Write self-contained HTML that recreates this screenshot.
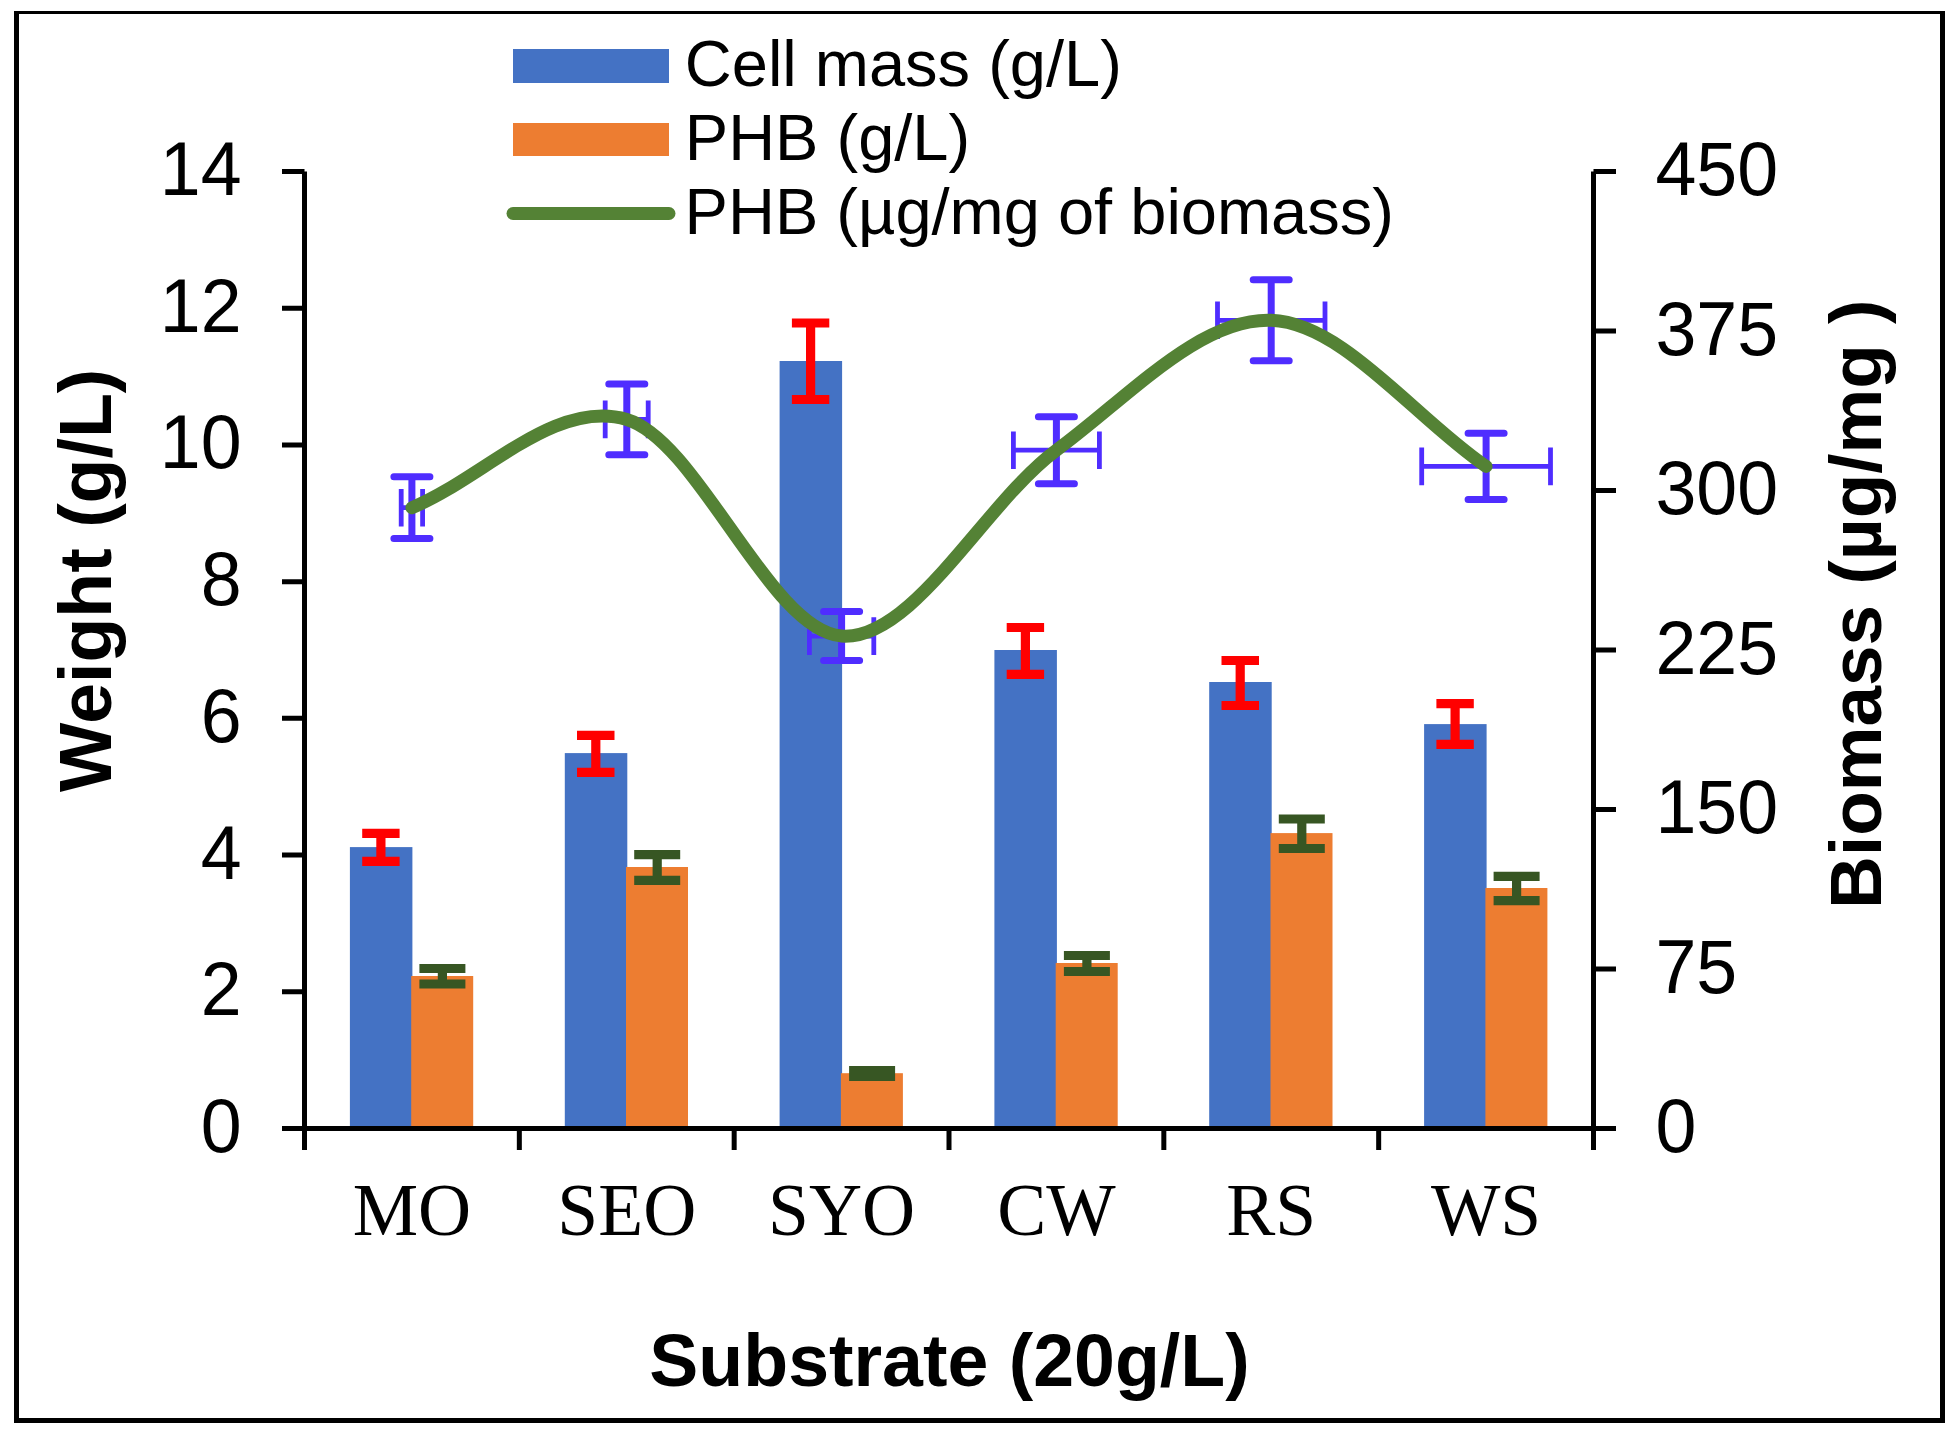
<!DOCTYPE html>
<html lang="en"><head><meta charset="utf-8"><title>Substrate chart</title>
<style>html,body{margin:0;padding:0;background:#fff;}body{width:1956px;height:1432px;overflow:hidden;}svg{display:block;}.s{font-family:"Liberation Sans",Arial,sans-serif;}.b{font-family:"Liberation Sans",Arial,sans-serif;font-weight:bold;}.t{font-family:"Liberation Serif","Times New Roman",serif;}</style></head><body>
<svg width="1956" height="1432" viewBox="0 0 1956 1432">
<rect x="0" y="0" width="1956" height="1432" fill="#fff"/>
<path d="M14 11H1945V1423H14ZM19 14V1418H1940V14Z" fill="#000" fill-rule="evenodd"/>
<rect x="349.9" y="847.1" width="62.5" height="281.4" fill="#4472C4"/>
<rect x="564.8" y="753.1" width="62.5" height="375.4" fill="#4472C4"/>
<rect x="779.6" y="361.0" width="62.5" height="767.5" fill="#4472C4"/>
<rect x="994.4" y="650.0" width="62.5" height="478.5" fill="#4472C4"/>
<rect x="1209.2" y="682.0" width="62.5" height="446.5" fill="#4472C4"/>
<rect x="1424.1" y="724.1" width="62.5" height="404.4" fill="#4472C4"/>
<rect x="411.2" y="976.0" width="62" height="152.5" fill="#ED7D31"/>
<rect x="626.0" y="867.0" width="62" height="261.5" fill="#ED7D31"/>
<rect x="840.9" y="1073.2" width="62" height="55.3" fill="#ED7D31"/>
<rect x="1055.7" y="963.0" width="62" height="165.5" fill="#ED7D31"/>
<rect x="1270.5" y="833.1" width="62" height="295.4" fill="#ED7D31"/>
<rect x="1485.4" y="888.0" width="62" height="240.5" fill="#ED7D31"/>
<path d="M362.2 833.4H399.6M362.2 861.4H399.6M380.9 833.4V861.4" stroke="#FF0000" stroke-width="9.2" fill="none"/>
<path d="M577.0 735.4H614.5M577.0 772.4H614.5M595.8 735.4V772.4" stroke="#FF0000" stroke-width="9.2" fill="none"/>
<path d="M791.9 323.0H829.3M791.9 399.5H829.3M810.6 323.0V399.5" stroke="#FF0000" stroke-width="9.2" fill="none"/>
<path d="M1006.7 627.5H1044.1M1006.7 674.4H1044.1M1025.4 627.5V674.4" stroke="#FF0000" stroke-width="9.2" fill="none"/>
<path d="M1221.5 660.5H1259.0M1221.5 705.5H1259.0M1240.2 660.5V705.5" stroke="#FF0000" stroke-width="9.2" fill="none"/>
<path d="M1436.4 703.6H1473.8M1436.4 744.4H1473.8M1455.1 703.6V744.4" stroke="#FF0000" stroke-width="9.2" fill="none"/>
<path d="M419.4 968.5H465.4M419.4 984.0H465.4M442.4 968.5V984.0" stroke="#375623" stroke-width="9.2" fill="none"/>
<path d="M634.2 854.7H680.2M634.2 880.4H680.2M657.2 854.7V880.4" stroke="#375623" stroke-width="9.2" fill="none"/>
<path d="M849.1 1070.5H895.1M849.1 1076.5H895.1M872.1 1070.5V1076.5" stroke="#375623" stroke-width="9.2" fill="none"/>
<path d="M1063.9 955.5H1109.9M1063.9 971.5H1109.9M1086.9 955.5V971.5" stroke="#375623" stroke-width="9.2" fill="none"/>
<path d="M1278.8 819.0H1324.8M1278.8 848.5H1324.8M1301.8 819.0V848.5" stroke="#375623" stroke-width="9.2" fill="none"/>
<path d="M1493.6 876.4H1539.6M1493.6 900.6H1539.6M1516.6 876.4V900.6" stroke="#375623" stroke-width="9.2" fill="none"/>
<path d="M401.2 507.7H422.6M401.2 488.9V526.5M422.6 488.9V526.5" stroke="#4F2DFF" stroke-width="4.8" fill="none"/>
<path d="M411.9 476.8V538.6M393.9 476.8H429.9M393.9 538.6H429.9" stroke="#4F2DFF" stroke-width="7" stroke-linecap="round" fill="none"/>
<path d="M605.2 419.4H648.2M605.2 400.6V438.2M648.2 400.6V438.2" stroke="#4F2DFF" stroke-width="4.8" fill="none"/>
<path d="M626.8 384.1V454.7M608.8 384.1H644.8M608.8 454.7H644.8" stroke="#4F2DFF" stroke-width="7" stroke-linecap="round" fill="none"/>
<path d="M809.4 636.1H873.8M809.4 617.3V654.9M873.8 617.3V654.9" stroke="#4F2DFF" stroke-width="4.8" fill="none"/>
<path d="M841.6 611.6V660.6M823.6 611.6H859.6M823.6 660.6H859.6" stroke="#4F2DFF" stroke-width="7" stroke-linecap="round" fill="none"/>
<path d="M1013.4 450.2H1099.4M1013.4 431.4V469.0M1099.4 431.4V469.0" stroke="#4F2DFF" stroke-width="4.8" fill="none"/>
<path d="M1056.4 416.7V483.7M1038.4 416.7H1074.4M1038.4 483.7H1074.4" stroke="#4F2DFF" stroke-width="7" stroke-linecap="round" fill="none"/>
<path d="M1217.5 320.3H1325.0M1217.5 301.5V339.1M1325.0 301.5V339.1" stroke="#4F2DFF" stroke-width="4.8" fill="none"/>
<path d="M1271.2 279.8V360.8M1253.2 279.8H1289.2M1253.2 360.8H1289.2" stroke="#4F2DFF" stroke-width="7" stroke-linecap="round" fill="none"/>
<path d="M1421.7 466.4H1550.5M1421.7 447.6V485.2M1550.5 447.6V485.2" stroke="#4F2DFF" stroke-width="4.8" fill="none"/>
<path d="M1486.1 433.3V499.5M1468.1 433.3H1504.1M1468.1 499.5H1504.1" stroke="#4F2DFF" stroke-width="7" stroke-linecap="round" fill="none"/>
<path d="M411.9 507.7C483.5 478.3 555.1 398.0 626.8 419.4C698.4 440.8 770.0 631.0 841.6 636.1C913.2 641.2 984.8 502.8 1056.4 450.2C1128.0 397.6 1199.6 317.6 1271.2 320.3C1342.9 323.0 1414.5 417.7 1486.1 466.4" stroke="#548235" stroke-width="13" stroke-linecap="round" stroke-linejoin="round" fill="none"/>
<g stroke="#000" stroke-width="5" fill="none">
<path d="M304.5 171.5V1150M1593.5 171.5V1150M282 1128.5H1616"/>
<path d="M282 171.50H304.5M282 308.21H304.5M282 444.93H304.5M282 581.64H304.5M282 718.36H304.5M282 855.07H304.5M282 991.79H304.5M1593.5 171.50H1616M1593.5 331.00H1616M1593.5 490.50H1616M1593.5 650.00H1616M1593.5 809.50H1616M1593.5 969.00H1616M519.33 1128.5V1150M734.17 1128.5V1150M949.00 1128.5V1150M1163.83 1128.5V1150M1378.67 1128.5V1150"/>
</g>
<g class="s" font-size="73.5" fill="#000" text-anchor="end">
<text transform="translate(241.6 1152.0) scale(1 1.040)">0</text>
<text transform="translate(241.6 1015.3) scale(1 1.040)">2</text>
<text transform="translate(241.6 878.6) scale(1 1.040)">4</text>
<text transform="translate(241.6 741.9) scale(1 1.040)">6</text>
<text transform="translate(241.6 605.1) scale(1 1.040)">8</text>
<text transform="translate(241.6 468.4) scale(1 1.040)">10</text>
<text transform="translate(241.6 331.7) scale(1 1.040)">12</text>
<text transform="translate(241.6 195.0) scale(1 1.040)">14</text>
<text transform="translate(1655.5 1152.0) scale(1 1.040)" text-anchor="start">0</text>
<text transform="translate(1655.5 992.5) scale(1 1.040)" text-anchor="start">75</text>
<text transform="translate(1655.5 833.0) scale(1 1.040)" text-anchor="start">150</text>
<text transform="translate(1655.5 673.5) scale(1 1.040)" text-anchor="start">225</text>
<text transform="translate(1655.5 514.0) scale(1 1.040)" text-anchor="start">300</text>
<text transform="translate(1655.5 354.5) scale(1 1.040)" text-anchor="start">375</text>
<text transform="translate(1655.5 195.0) scale(1 1.040)" text-anchor="start">450</text>
</g>
<g class="t" font-size="73.5" fill="#000" text-anchor="middle">
<text x="411.9" y="1235">MO</text>
<text x="626.8" y="1235">SEO</text>
<text x="841.6" y="1235">SYO</text>
<text x="1056.4" y="1235">CW</text>
<text x="1271.2" y="1235">RS</text>
<text x="1486.1" y="1235">WS</text>
</g>
<g class="b" font-size="73.5" fill="#000" text-anchor="middle">
<text x="949.5" y="1386">Substrate (20g/L)</text>
<text transform="translate(111 580.3) rotate(-90)">Weight (g/L)</text>
<text transform="translate(1881 604.2) rotate(-90)" font-size="72.9">Biomass (µg/mg )</text>
</g>
<rect x="513" y="49" width="156" height="34" fill="#4472C4"/>
<rect x="513" y="123" width="156" height="33" fill="#ED7D31"/>
<path d="M513 213.5H669" stroke="#548235" stroke-width="13" stroke-linecap="round"/>
<g class="s" font-size="65" fill="#000">
<text x="684.8" y="86">Cell mass (g/L)</text>
<text x="684.8" y="160">PHB (g/L)</text>
<text x="684.6" y="234">PHB (µg/mg of biomass)</text>
</g>
</svg></body></html>
